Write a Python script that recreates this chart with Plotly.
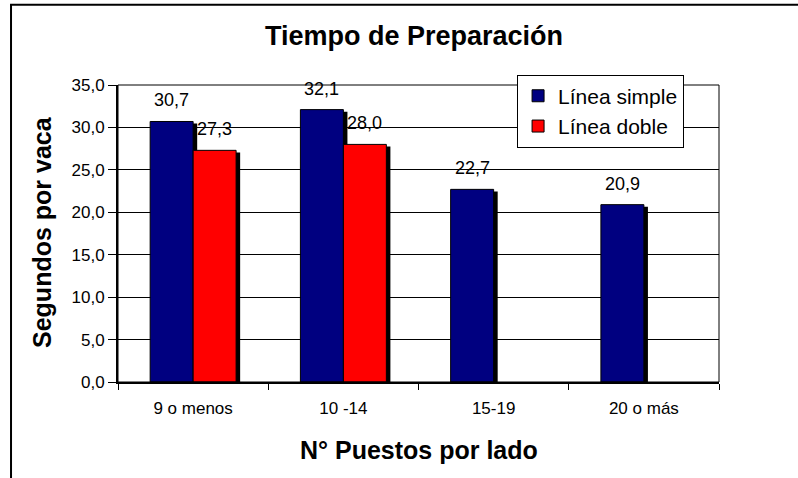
import plotly.graph_objects as go

categories = ["9 o menos", "10 -14", "15-19", "20 o más"]
simple = [30.7, 32.1, 22.7, 20.9]
doble = [27.3, 28.0, None, None]
series_names = ["Línea simple", "Línea doble"]
y_ticks = [0, 5, 10, 15, 20, 25, 30, 35]

FONT = "Arial, Liberation Sans, sans-serif"
BAR_W = 0.286
SH_DX = 0.027      # shadow shift (in category units)
SH_DY = 0.24       # shadow drop (in data units)


def shadow(vals):
    return [v - SH_DY if v is not None else None for v in vals]


def fmt(v):
    return f"{v:.1f}".replace(".", ",")


fig = go.Figure()

# shadows
fig.add_trace(go.Bar(x=categories, y=shadow(simple), offset=-BAR_W + SH_DX, width=BAR_W,
                     marker=dict(color="black", line=dict(width=0)),
                     showlegend=False, hoverinfo="skip"))
fig.add_trace(go.Bar(x=categories, y=shadow(doble), offset=SH_DX, width=BAR_W,
                     marker=dict(color="black", line=dict(width=0)),
                     showlegend=False, hoverinfo="skip"))
# bars
fig.add_trace(go.Bar(x=categories, y=simple, name=series_names[0], offset=-BAR_W, width=BAR_W,
                     legendgroup="a",
                     marker=dict(color="#000080", line=dict(color="black", width=1))))
fig.add_trace(go.Bar(x=categories, y=doble, name=series_names[1], offset=0, width=BAR_W,
                     legendgroup="b",
                     marker=dict(color="#FF0000", line=dict(color="black", width=1))))

annotations = []
for i, v in enumerate(simple):
    if v is not None:
        annotations.append(dict(x=i - BAR_W / 2, y=v, xref="x", yref="y", text=fmt(v),
                                showarrow=False, yanchor="bottom", yshift=9,
                                font=dict(family=FONT, size=18, color="black")))
for i, v in enumerate(doble):
    if v is not None:
        annotations.append(dict(x=i + BAR_W / 2, y=v, xref="x", yref="y", text=fmt(v),
                                showarrow=False, yanchor="bottom", yshift=9,
                                font=dict(family=FONT, size=18, color="black")))

annotations += [
    dict(x=0.4917, y=1.165, xref="paper", yref="paper", text="<b>Tiempo de Preparación</b>",
         showarrow=False, xanchor="center", yanchor="middle", font=dict(family=FONT, size=27, color="black")),
    dict(x=0.5, y=-0.229, xref="paper", yref="paper", text="<b>N° Puestos por lado</b>",
         showarrow=False, xanchor="center", yanchor="middle", font=dict(family=FONT, size=25, color="black")),
    dict(x=-0.1265, y=0.505, xref="paper", yref="paper", text="<b>Segundos por vaca</b>", textangle=-90,
         showarrow=False, xanchor="center", yanchor="middle", font=dict(family=FONT, size=25, color="black")),
]

shapes = [
    # plot area border
    dict(type="rect", xref="paper", yref="paper", x0=0, x1=1, y0=0, y1=1,
         line=dict(color="black", width=1), layer="above"),
    # outer chart border (cropped at right/bottom)
    dict(type="rect", xref="paper", yref="paper", x0=-0.178, x1=2, y0=-2, y1=1.27,
         line=dict(color="black", width=2)),
]

fig.update_layout(
    width=798, height=478,
    margin=dict(l=118, r=79, t=85, b=96),
    paper_bgcolor="white", plot_bgcolor="white",
    separators=",.",
    barmode="overlay",
    font=dict(family=FONT, size=17, color="black"),
    showlegend=True,
    legend=dict(x=0.664, y=1.035, xanchor="left", yanchor="top", bgcolor="white",
                bordercolor="black", borderwidth=1, font=dict(family=FONT, size=21, color="black"),
                traceorder="grouped", tracegroupgap=0),
    annotations=annotations,
    shapes=shapes,
)
fig.update_xaxes(type="category", range=[-0.5, 3.5], showline=True, linecolor="black", linewidth=2,
                 ticks="outside", ticklen=6, tickcolor="black", tickwidth=1, tickson="boundaries",
                 ticklabelstandoff=10,
                 showgrid=False, zeroline=False, tickfont=dict(family=FONT, size=17, color="black"))
fig.update_yaxes(range=[0, 35], tickvals=y_ticks, tickformat=".1f", showline=True, linecolor="black",
                 linewidth=2, ticks="outside", ticklen=8, tickcolor="black", tickwidth=1,
                 showgrid=True, gridcolor="black", gridwidth=1, zeroline=False,
                 tickfont=dict(family=FONT, size=17, color="black"))

fig.write_html("out.html", config={"displayModeBar": False},
               post_script="document.body.style.margin='0';")
